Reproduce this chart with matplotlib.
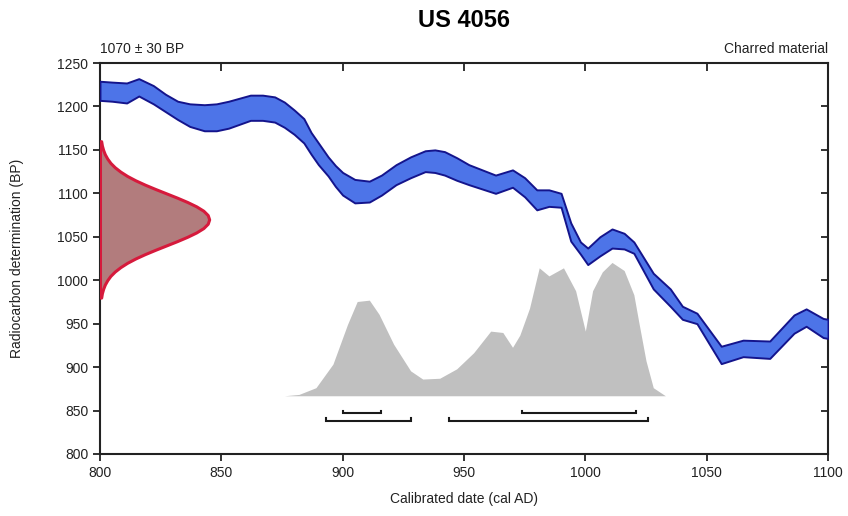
import matplotlib.pyplot as plt

plt.rcParams['font.family'] = ['Liberation Sans', 'DejaVu Sans']

# calibration curve band (cal AD, BP upper / lower)
curve_yr = [800, 805, 811, 816, 822, 827, 832, 837, 843, 848, 853, 862, 867, 872, 876,
            880, 884, 887, 890, 894, 897, 900, 905, 911, 916, 922, 928, 934, 938, 942,
            947, 952, 963, 970, 975, 980, 985, 990, 994, 998, 1001, 1006, 1011, 1016,
            1020, 1028, 1035, 1040, 1046, 1056, 1065, 1076, 1086, 1091, 1098, 1100]
curve_hi = [1229, 1228, 1227, 1232, 1224, 1214, 1206, 1203, 1202, 1203, 1206, 1213, 1213, 1211, 1205,
            1196, 1186, 1170, 1158, 1142, 1132, 1124, 1116, 1114, 1121, 1133, 1142, 1149, 1150, 1148,
            1141, 1133, 1121, 1127, 1118, 1104, 1104, 1100, 1066, 1044, 1037, 1050, 1059, 1054,
            1044, 1008, 990, 970, 962, 924, 931, 930, 960, 967, 956, 955]
curve_lo = [1207, 1206, 1204, 1212, 1203, 1194, 1185, 1177, 1172, 1172, 1175, 1184, 1184, 1182, 1176,
            1168, 1158, 1145, 1133, 1120, 1108, 1098, 1089, 1090, 1098, 1110, 1118, 1125, 1124, 1121,
            1115, 1110, 1100, 1107, 1096, 1081, 1085, 1084, 1045, 1030, 1018, 1028, 1037, 1036,
            1031, 990, 970, 955, 950, 904, 912, 910, 939, 947, 934, 933]

# radiocarbon measurement 1070 +/- 30 BP, width in years off the left axis
meas_bp = [980, 985, 990, 995, 1000, 1005, 1010, 1015, 1020, 1025, 1030, 1035, 1040, 1045,
           1050, 1055, 1060, 1065, 1070, 1075, 1080, 1085, 1090, 1095, 1100, 1105, 1110,
           1115, 1120, 1125, 1130, 1135, 1140, 1145, 1150, 1155, 1160]
meas_w = [0.5, 0.8, 1.3, 2.0, 3.0, 4.3, 6.1, 8.4, 11.2, 14.6, 18.5, 22.8, 27.3, 31.8,
          36.0, 39.7, 42.6, 44.4, 45.0, 44.4, 42.6, 39.7, 36.0, 31.8, 27.3, 22.8, 18.5,
          14.6, 11.2, 8.4, 6.1, 4.3, 3.0, 2.0, 1.3, 0.8, 0.5]

# calibrated probability (relative)
post_yr = [876, 882, 889, 896, 902, 906, 911, 915, 921, 928, 933, 940, 947, 954, 961,
           966, 970, 973, 977, 981, 985, 991, 996, 1000, 1003, 1007, 1011, 1016, 1020,
           1022, 1025, 1028, 1033]
post_p = [0.0, 0.01, 0.06, 0.235, 0.53, 0.70, 0.71, 0.605, 0.383, 0.185, 0.124, 0.13, 0.2,
          0.32, 0.48, 0.47, 0.36, 0.45, 0.65, 0.95, 0.89, 0.95, 0.78, 0.48, 0.78, 0.92,
          0.99, 0.93, 0.75, 0.55, 0.26, 0.06, 0.0]
post_base = 867
post_scale = 155

# highest posterior density ranges
ranges_68 = [(900, 916), (974, 1021)]
ranges_95 = [(893, 928), (944, 1026)]

fig = plt.figure(figsize=(8.48, 5.16), dpi=100)
ax = fig.add_axes([0.1179, 0.1202, 0.8585, 0.7577])

ax.fill_between(post_yr, post_base, [post_base + post_scale * p for p in post_p],
                color='#c0c0c0', lw=0, zorder=1)

ax.fill_between(curve_yr, curve_lo, curve_hi, facecolor='#4d74e8',
                edgecolor='#14148c', lw=1.4, zorder=3)

ax.fill_betweenx(meas_bp, 800, [800 + w for w in meas_w], facecolor='#b27c7d',
                 edgecolor='#d61a3c', lw=2.2, zorder=4)

for rows, yv in ((ranges_68, 847), (ranges_95, 838)):
    for a, b in rows:
        ax.plot([a, a, b, b], [yv + 3, yv, yv, yv + 3], color='#1a1a1a', lw=1.5,
                solid_joinstyle='miter', zorder=5)

ax.set_xlim(800, 1100)
ax.set_ylim(800, 1250)
ax.set_xticks(range(800, 1101, 50))
ax.set_yticks(range(800, 1251, 50))
ax.tick_params(axis='both', labelsize=10, width=1.3, length=5, color='#222222',
               labelcolor='#222222')
ax.tick_params(axis='x', top=True, direction='out')
ax.tick_params(axis='y', right=True, direction='out')
for t in ax.xaxis.get_major_ticks():
    t.tick2line.set_marker(3)
    t.tick2line.set_markersize(6)
for t in ax.yaxis.get_major_ticks():
    t.tick2line.set_marker(0)
    t.tick2line.set_markersize(5)
for t in ax.xaxis.get_major_ticks()[::6]:
    t.tick2line.set_visible(False)
for t in ax.yaxis.get_major_ticks()[::9]:
    t.tick2line.set_visible(False)
for s in ax.spines.values():
    s.set_linewidth(1.5)
    s.set_color('#222222')

ax.set_xlabel('Calibrated date (cal AD)', fontsize=10, labelpad=9, color='#222222')
ax.set_ylabel('Radiocarbon determination (BP)', fontsize=10, labelpad=24, color='#222222')
ax.set_title('US 4056', fontsize=17, fontweight='bold', pad=26)
ax.text(0.0, 1.018, '1070 ± 30 BP', transform=ax.transAxes, fontsize=10,
        ha='left', va='bottom', color='#222222')
ax.text(1.0, 1.018, 'Charred material', transform=ax.transAxes, fontsize=10,
        ha='right', va='bottom', color='#222222')

fig.savefig('out.png', dpi=100)
